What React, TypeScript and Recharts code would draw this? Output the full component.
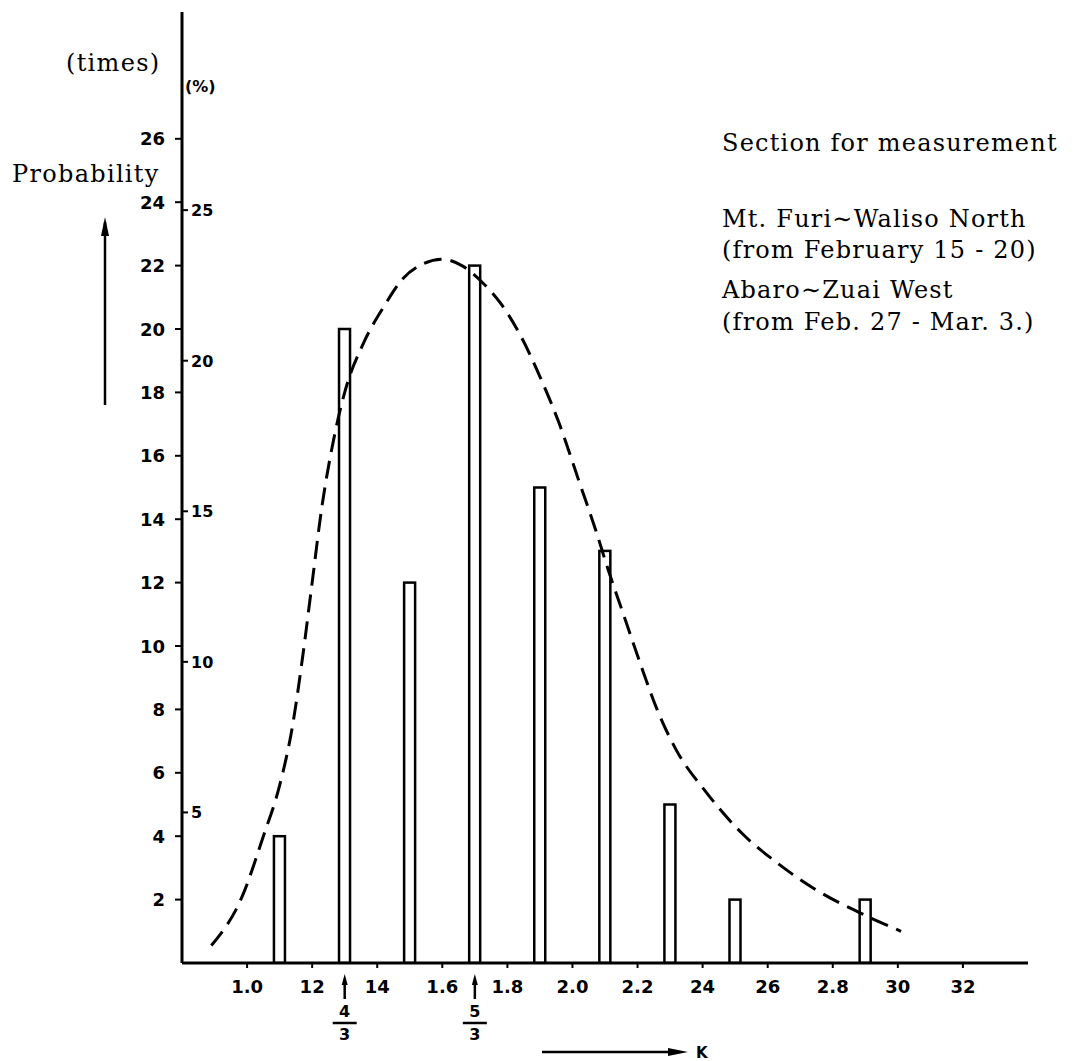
import { ComposedChart, Bar, Line, XAxis, YAxis } from "recharts";

// bars: K value -> number of times observed
const kValues = [1.1, 1.3, 1.5, 1.7, 1.9, 2.1, 2.3, 2.5, 2.9];
const counts = [4, 20, 12, 22, 15, 13, 5, 2, 2];

// dashed fitted curve (K, times)
const curveK = [
  0.89, 0.985, 1.05, 1.1, 1.14, 1.17, 1.2, 1.23, 1.26, 1.3, 1.36, 1.42,
  1.48, 1.54, 1.6, 1.66, 1.72, 1.78, 1.84, 1.9, 1.96, 2.02, 2.07, 2.11,
  2.16, 2.21, 2.26, 2.32, 2.41, 2.52, 2.63, 2.75, 2.88, 3.01,
];
const curveTimes = [
  0.55, 2.1, 4.0, 5.6, 7.5, 9.6, 12.0, 14.4, 16.2, 18.0, 19.6, 20.7,
  21.6, 22.05, 22.2, 22.0, 21.5, 20.8, 19.8, 18.5, 17.0, 15.2, 13.7, 12.4,
  10.9, 9.4, 8.0, 6.7, 5.4, 4.1, 3.15, 2.3, 1.6, 1.0,
];

const xTicks = [1.0, 1.2, 1.4, 1.6, 1.8, 2.0, 2.2, 2.4, 2.6, 2.8, 3.0, 3.2];
const xTickLabels = ["1.0", "12", "14", "1.6", "1.8", "2.0", "2.2", "24", "26", "2.8", "30", "32"];
const timesTicks = [2, 4, 6, 8, 10, 12, 14, 16, 18, 20, 22, 24, 26];
const pctTicks = [5, 10, 15, 20, 25];

// 4/3 and 5/3 marks under the axis
const fracMarks = [
  { at: 1.3, num: "4", den: "3" },
  { at: 1.7, num: "5", den: "3" },
];

const noteLines = [
  { text: "Section for measurement", y: 151 },
  { text: "Mt. Furi\u223CWaliso North", y: 227 },
  { text: "(from February 15 - 20)", y: 258 },
  { text: "Abaro\u223CZuai West", y: 298 },
  { text: "(from Feb. 27 - Mar. 3.)", y: 330 },
];

const total = counts.reduce((a, b) => a + b, 0);
const barData = kValues.map((k, i) => ({ k, count: counts[i], pct: (counts[i] * 100) / total }));
const curveData = curveK.map((k, i) => ({ k, times: curveTimes[i] }));
const allXTicks = [...xTicks, ...fracMarks.map((f) => f.at)].sort((a, b) => a - b);

const sans = "DejaVu Sans";
const serif = "DejaVu Serif";
const near = (a: number, b: number) => Math.abs(a - b) < 1e-6;

function KTick(props: any) {
  const { x, y, payload } = props;
  const m = fracMarks.find((f) => near(f.at, payload.value));
  if (m) {
    return (
      <g>
        <line x1={x} x2={x} y1={y + 18} y2={y + 36} stroke="#000" strokeWidth={2.5} />
        <polygon points={`${x - 3},${y + 22} ${x + 3},${y + 22} ${x},${y + 11}`} fill="#000" />
        <text x={x} y={y + 54} textAnchor="middle" fontSize={16} fontWeight={700} fontFamily={sans}>
          {m.num}
        </text>
        <line x1={x - 12} x2={x + 12} y1={y + 60} y2={y + 60} stroke="#000" strokeWidth={2.5} />
        <text x={x} y={y + 77} textAnchor="middle" fontSize={16} fontWeight={700} fontFamily={sans}>
          {m.den}
        </text>
      </g>
    );
  }
  const i = xTicks.findIndex((t) => near(t, payload.value));
  return (
    <g>
      <line x1={x} x2={x} y1={y} y2={y + 5} stroke="#000" strokeWidth={2} />
      <text x={x} y={y + 30} textAnchor="middle" fontSize={18} fontWeight={700} fontFamily={sans}>
        {xTickLabels[i]}
      </text>
    </g>
  );
}

function TimesTick(props: any) {
  const { x, y, payload } = props;
  return (
    <text x={x} y={y + 6.5} textAnchor="end" fontSize={18} fontWeight={700} fontFamily={sans} fill="#000">
      {payload.value}
    </text>
  );
}

function PctTick(props: any) {
  const { x, y, payload } = props;
  return (
    <text x={x} y={y + 6} textAnchor="start" fontSize={16} fontWeight={700} fontFamily={sans} fill="#000">
      {payload.value}
    </text>
  );
}

function HollowBar(props: any) {
  const { x, y, width, height } = props;
  const w = 11;
  const cx = x + width / 2;
  return <rect x={cx - w / 2} y={y} width={w} height={height} fill="#fff" stroke="#000" strokeWidth={2.5} />;
}

export default function App() {
  return (
    <div style={{ position: "absolute", left: 0, top: 0, width: 1081, height: 1061, background: "#fff" }}>
      <ComposedChart
        width={1081}
        height={1061}
        data={barData}
        margin={{ top: 12, right: 53, left: 122, bottom: 8 }}
      >
        <XAxis
          dataKey="k"
          type="number"
          domain={[0.8, 3.4]}
          allowDataOverflow
          ticks={allXTicks}
          interval={0}
          height={90}
          tickSize={0}
          tickMargin={0}
          tickLine={false}
          tick={<KTick />}
          axisLine={{ stroke: "#000", strokeWidth: 3 }}
        />
        <YAxis
          yAxisId="times"
          width={60}
          domain={[0, 30]}
          allowDataOverflow
          ticks={timesTicks}
          interval={0}
          tickSize={7}
          tickMargin={10}
          tick={<TimesTick />}
          axisLine={{ stroke: "#000", strokeWidth: 3 }}
          tickLine={{ stroke: "#000", strokeWidth: 2 }}
        />
        <YAxis
          yAxisId="pct"
          orientation="left"
          mirror
          width={40}
          domain={[0, (30 * 100) / total]}
          allowDataOverflow
          ticks={pctTicks}
          interval={0}
          tickSize={6}
          tickMargin={3}
          axisLine={false}
          tick={<PctTick />}
          tickLine={{ stroke: "#000", strokeWidth: 2 }}
        />
        <Line
          yAxisId="pct"
          dataKey="pct"
          stroke="none"
          dot={false}
          activeDot={false}
          legendType="none"
          isAnimationActive={false}
        />
        <Line
          yAxisId="times"
          data={curveData}
          dataKey="times"
          type="monotone"
          stroke="#000"
          strokeWidth={3}
          strokeDasharray="18 9"
          dot={false}
          isAnimationActive={false}
        />
        <Bar
          yAxisId="times"
          dataKey="count"
          barSize={11}
          shape={<HollowBar />}
          isAnimationActive={false}
        />
      </ComposedChart>

      <svg
        width={1081}
        height={1061}
        style={{ position: "absolute", left: 0, top: 0, pointerEvents: "none" }}
      >
        <text x={66} y={71} fontSize={24} letterSpacing={1.3} fontFamily={serif}>
          (times)
        </text>
        <text x={185} y={92} fontSize={16} fontWeight={700} fontFamily={sans}>
          (%)
        </text>
        <text x={12} y={182} fontSize={24} letterSpacing={1.3} fontFamily={serif}>
          Probability
        </text>
        <line x1={105} x2={105} y1={222} y2={405} stroke="#000" strokeWidth={2.5} />
        <polygon points="101,236 109,236 105,217" fill="#000" />

        {noteLines.map((n) => (
          <text key={n.text} x={722} y={n.y} fontSize={24} letterSpacing={1.2} fontFamily={serif}>
            {n.text}
          </text>
        ))}

        <line x1={542} x2={678} y1={1052} y2={1052} stroke="#000" strokeWidth={2.5} />
        <polygon points="668,1048 668,1056 688,1052" fill="#000" />
        <text x={696} y={1058} fontSize={15} fontWeight={700} fontFamily={sans}>
          K
        </text>
      </svg>
    </div>
  );
}
